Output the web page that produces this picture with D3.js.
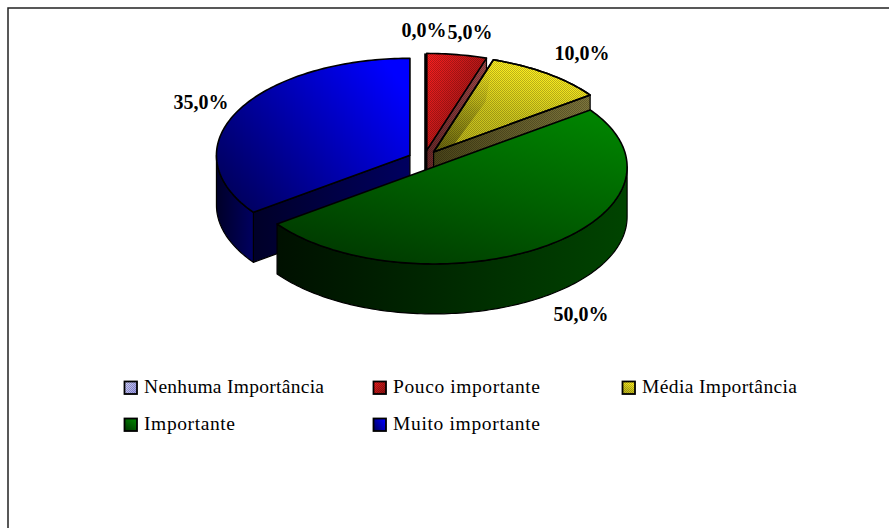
<!DOCTYPE html>
<html>
<head>
<meta charset="utf-8">
<script src="https://d3js.org/d3.v7.min.js"></script>
<style>
  html, body { margin: 0; padding: 0; background: #fff; overflow: hidden; }
  svg { display: block; }
  text { font-family: "Liberation Serif", serif; fill: #000; }
</style>
</head>
<body>
<div id="chart"></div>
<script>
// Data
const categories = ['Nenhuma Importância', 'Pouco importante', 'Média Importância', 'Importante', 'Muito importante'];
const values = [0, 5, 10, 50, 35];
const valueLabels = ['0,0%', '5,0%', '10,0%', '50,0%', '35,0%'];

// Chart setup
const width = 889;
const height = 528;
const svg = d3.select('#chart').append('svg')
  .attr('width', width)
  .attr('height', height);

const defs = svg.append('defs');

// Pie geometry
const cx = 424.2, cy = 159.5;
const rx = 193.5, ry = 97;
const depth = 50;
const explodeX = 16, explodeY = 9.2;

// Slice colours: top gradient stops + side gradient stops
const topStops = [
  ['#d4d4ff', '#a0a0ee'],
  ['#ff2020', '#c41818', '#961212'],
  ['#fff020', '#d0c81c', '#bcb41a'],
  ['#008400', '#006000', '#003a00'],
  ['#0000ff', '#0000b0', '#000060']
];
const sideStops = [
  ['#6666aa', '#333366'],
  ['#a04848', '#6a2828'],
  ['#80783c', '#4a4418'],
  ['#004400', '#001000'],
  ['#000060', '#000028']
];
const hatched = [true, true, true, false, false];
const topDirection = [
  [0, 0, 1, 0.6],
  [0, 0, 1, 0.8],
  [0.35, 0, 0, 1],
  [0.85, 0, 0.25, 1],
  [0.95, 0.15, 0, 0.75]
];

function gradient(id, stops, dir) {
  const g = defs.append('linearGradient').attr('id', id)
    .attr('x1', dir[0]).attr('y1', dir[1]).attr('x2', dir[2]).attr('y2', dir[3]);
  stops.forEach((c, k) => {
    g.append('stop').attr('offset', k / (stops.length - 1)).attr('stop-color', c);
  });
}

categories.forEach((c, i) => {
  gradient('top' + i, topStops[i], topDirection[i]);
  gradient('side' + i, sideStops[i], [1, 0, 0, 0]);
});

// shade on the inner part of the yellow slice
const shade = defs.append('linearGradient').attr('id', 'shade')
  .attr('x1', 0.5).attr('y1', 0).attr('x2', 0.3).attr('y2', 1);
shade.append('stop').attr('offset', 0).attr('stop-color', '#000').attr('stop-opacity', 0);
shade.append('stop').attr('offset', 0.4).attr('stop-color', '#000').attr('stop-opacity', 0.12);
shade.append('stop').attr('offset', 1).attr('stop-color', '#000').attr('stop-opacity', 0.42);

// dither pattern for the light slices
const hatch = defs.append('pattern').attr('id', 'hatch')
  .attr('width', 2).attr('height', 2)
  .attr('patternUnits', 'userSpaceOnUse');
hatch.append('rect').attr('width', 1).attr('height', 1).attr('fill', '#000').attr('opacity', 0.24);
hatch.append('rect').attr('x', 1).attr('y', 1).attr('width', 1).attr('height', 1).attr('fill', '#000').attr('opacity', 0.24);

// Angles come from d3.pie, 0 is the top of the ellipse, clockwise
const arcs = d3.pie().sort(null).value(d => d)(values);

function project(a, r, ox, oy) {
  return [ox + r * rx * Math.sin(a), oy - r * ry * Math.cos(a)];
}

function offsetOf(d) {
  const mid = (d.startAngle + d.endAngle) / 2;
  return [cx + explodeX * Math.sin(mid), cy - explodeY * Math.cos(mid)];
}

function arcPoints(a0, a1, ox, oy) {
  const n = Math.max(2, Math.ceil((a1 - a0) / 0.02));
  return d3.range(n + 1).map(k => project(a0 + (a1 - a0) * k / n, 1, ox, oy));
}

const line = d3.line();

function topPath(d) {
  const [ox, oy] = offsetOf(d);
  return line([[ox, oy], ...arcPoints(d.startAngle, d.endAngle, ox, oy)]) + 'Z';
}

function wallPath(points) {
  const down = points.map(p => [p[0], p[1] + depth]).reverse();
  return line([...points, ...down]) + 'Z';
}

function drawSlice(d, i) {
  if (d.endAngle === d.startAngle) return;
  const g = svg.append('g').attr('class', 'slice');
  const [ox, oy] = offsetOf(d);
  const start = project(d.startAngle, 1, ox, oy);
  const end = project(d.endAngle, 1, ox, oy);
  const walls = [];

  // radial cut faces facing the viewer
  if (d.endAngle < Math.PI) walls.push(wallPath([[ox, oy], end]));
  if (d.startAngle > Math.PI) walls.push(wallPath([[ox, oy], start]));

  // outer wall, only the part on the front half of the ellipse
  const a0 = Math.max(d.startAngle, Math.PI / 2);
  const a1 = Math.min(d.endAngle, Math.PI * 1.5);
  if (a1 > a0) walls.push(wallPath(arcPoints(a0, a1, ox, oy)));

  walls.forEach(w => {
    g.append('path').attr('d', w)
      .attr('fill', `url(#side${i})`)
      .attr('stroke', '#000').attr('stroke-width', 1.2)
      .attr('stroke-linejoin', 'round');
    if (hatched[i]) g.append('path').attr('d', w).attr('fill', 'url(#hatch)');
  });

  g.append('path').attr('d', topPath(d))
    .attr('fill', `url(#top${i})`)
    .attr('stroke', '#000').attr('stroke-width', 1.6)
    .attr('stroke-linejoin', 'round');
  if (hatched[i]) g.append('path').attr('d', topPath(d)).attr('fill', 'url(#hatch)');

  // the slice that starts at 12 o'clock has its edge seen side on, a thick black line
  if (d.startAngle === 0) {
    g.append('path')
      .attr('d', line([[ox - 1, start[1]], [ox - 1, oy + depth]]))
      .attr('stroke', '#000').attr('stroke-width', 3);
  }

  // yellow slice: darker inner area, fractions of radius and of the slice angle
  if (i === 2) {
    const span = d.endAngle - d.startAngle;
    const edge = [[1, 0], [0.585, 0.26], [0.13, 1]]
      .map(e => project(d.startAngle + e[1] * span, e[0], ox, oy));
    g.append('path')
      .attr('d', line([[ox, oy], ...edge]) + 'Z')
      .attr('fill', 'url(#shade)');
    g.append('path').attr('d', topPath(d))
      .attr('fill', 'none').attr('stroke', '#000').attr('stroke-width', 1.6)
      .attr('stroke-linejoin', 'round');
  }
}

// Painter order: back slices first, green sits in front of everything
[4, 1, 2, 3].forEach(i => drawSlice(arcs[i], i));

// Value labels
const labelX = d3.scaleOrdinal().domain(categories).range([424, 470, 582, 581, 201]);
const labelY = d3.scaleOrdinal().domain(categories).range([37, 39, 60, 321, 109]);

svg.append('g').selectAll('text')
  .data(categories)
  .enter().append('text')
  .attr('x', d => labelX(d))
  .attr('y', d => labelY(d))
  .attr('text-anchor', 'middle')
  .attr('font-size', 20)
  .attr('font-weight', 'bold')
  .text((d, i) => valueLabels[i]);

// Legend
const legendX = d3.scalePoint().domain([0, 1, 2]).range([125, 623]);
const legendY = d3.scalePoint().domain([0, 1]).range([387, 424]);
const legendTextWidth = d3.scaleOrdinal().domain(categories).range([180, 147, 155, 91, 147]);
const legend = svg.append('g').selectAll('g')
  .data(categories)
  .enter().append('g')
  .attr('transform', (d, i) => `translate(${legendX(i % 3)},${legendY(Math.floor(i / 3))})`);

legend.append('rect')
  .attr('x', -0.5).attr('y', -5.5)
  .attr('width', 12.5).attr('height', 12.5)
  .attr('fill', (d, i) => `url(#top${i})`)
  .attr('stroke', '#000').attr('stroke-width', 1.8);
legend.filter((d, i) => hatched[i]).append('rect')
  .attr('x', -0.5).attr('y', -5.5)
  .attr('width', 12.5).attr('height', 12.5)
  .attr('fill', 'url(#hatch)');
legend.append('text')
  .attr('x', 19).attr('y', 6)
  .attr('font-size', 19.5)
  .attr('textLength', d => legendTextWidth(d))
  .text(d => d);

// Outer frame: only the top and left edges fall inside the picture
svg.append('path')
  .attr('d', d3.line()([[8, height], [8, 8], [width, 8]]))
  .attr('fill', 'none').attr('stroke', '#222').attr('stroke-width', 1.5);
</script>
</body>
</html>
